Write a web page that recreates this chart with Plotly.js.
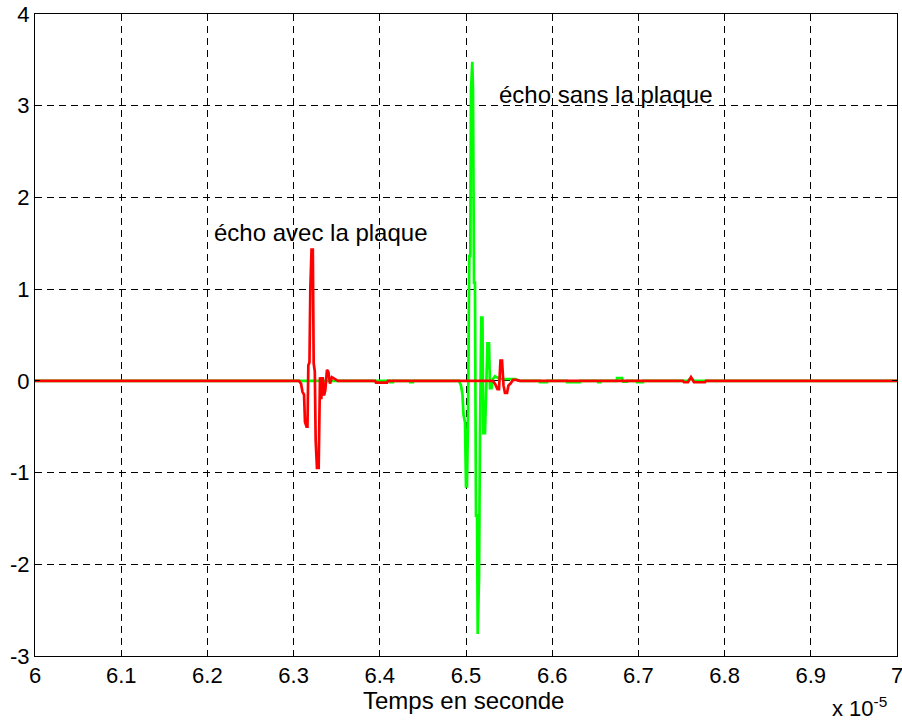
<!DOCTYPE html>
<html>
<head>
<meta charset="utf-8">
<script src="https://cdn.plot.ly/plotly-3.0.1.min.js"></script>
<style>html,body{margin:0;padding:0;background:#fff;}#chart{width:902px;height:724px;}</style>
</head>
<body>
<div id="chart"></div>
<script>
// Temps (unités de 1e-5 s) et amplitudes
var tempsSans = [6.0, 6.3900, 6.4118, 6.4120, 6.4153, 6.4155, 6.4350, 6.4352, 6.4385, 6.4387,
  6.4919, 6.4942, 6.4959, 6.4971, 6.4988, 6.5000, 6.5011, 6.5023, 6.5038, 6.5050,
  6.5058, 6.5073, 6.5081, 6.5093, 6.5104, 6.5116, 6.5128, 6.5136, 6.5151, 6.5162,
  6.5177, 6.5191, 6.5201, 6.5220, 6.5238, 6.5249, 6.5267, 6.5278, 6.5296, 6.5313,
  6.5336, 6.5394, 6.5568, 6.5626,
  6.5856, 6.5858, 6.5940, 6.5942, 6.6170, 6.6172, 6.6323, 6.6325, 6.6531, 6.6533, 6.6560, 6.6562,
  6.6750, 6.6752, 6.6810, 6.6821, 6.6868, 6.6870, 6.6982, 6.6984, 6.7053, 6.7055,
  6.7517, 6.7529, 6.7575, 6.7610, 6.7645, 6.7773, 6.7784, 7.0];
var ampSans = [0, 0, 0, -0.015, -0.015, 0, 0, -0.015, -0.015, 0,
  0, -0.05, -0.15, -0.37, -0.45, -1.15, -1.15, -0.45, 1.36, 1.36,
  3.17, 3.48, 3.17, 1.07, 1.07, -1.47, -1.47, -2.76, -2.15, -0.6,
  0.69, 0.69, -0.57, -0.57, 0.3, 0.41, 0.41, -0.08, -0.08, 0.02,
  0.05, 0.02, 0.02, 0,
  0, -0.015, -0.015, 0, 0, -0.015, -0.015, 0, 0, -0.015, -0.015, 0,
  0, 0.03, 0.03, -0.01, -0.01, 0, 0, -0.015, -0.015, 0,
  0, 0, 0, 0.03, 0, 0, 0, 0];

var tempsAvec = [6.0, 6.3063, 6.3086, 6.3103, 6.3121, 6.3132, 6.3150, 6.3161, 6.3171, 6.3184,
  6.3194, 6.3208, 6.3223, 6.3233, 6.3246, 6.3256, 6.3271, 6.3291, 6.3306, 6.3321,
  6.3338, 6.3353, 6.3368, 6.3387, 6.3403, 6.3422, 6.3445, 6.3480, 6.3515,
  6.3944, 6.3956, 6.4084, 6.4095,
  6.5313, 6.5336, 6.5365, 6.5383, 6.5400, 6.5418, 6.5435, 6.5452, 6.5476, 6.5493,
  6.5516, 6.5545, 6.5580, 6.5626,
  6.7517, 6.7529, 6.7575, 6.7610, 6.7645, 6.7773, 6.7784, 7.0];
var ampAvec = [0, 0, -0.03, -0.12, -0.15, -0.45, -0.5, -0.5, 0.17, 0.2,
  1.0, 1.43, 1.43, 0.19, 0.1, -0.65, -0.95, -0.95, 0.04, -0.2,
  0.04, -0.16, -0.1, 0.12, 0.1, -0.03, 0.04, 0.02, 0,
  0, -0.02, -0.02, 0,
  0, -0.03, -0.09, -0.09, 0.22, 0.22, -0.05, -0.13, -0.13, -0.05,
  -0.03, 0.01, 0.01, 0,
  0, -0.015, -0.015, 0.04, -0.015, -0.015, 0, 0];

var xTicks = [6, 6.1, 6.2, 6.3, 6.4, 6.5, 6.6, 6.7, 6.8, 6.9, 7];
var xTickText = ["6", "6.1", "6.2", "6.3", "6.4", "6.5", "6.6", "6.7", "6.8", "6.9", "7"];
var yTicks = [-3, -2, -1, 0, 1, 2, 3, 4];
var yTickText = ["-3", "-2", "-1", "0", "1", "2", "3", "4"];

var font = {family: "Liberation Sans, Arial, sans-serif", size: 24, color: "#000"};
var tickFont = {family: "Liberation Sans, Arial, sans-serif", size: 22, color: "#000"};

var traces = [
  {x: tempsSans, y: ampSans, type: "scatter", mode: "lines", name: "sans plaque",
   line: {color: "#00FF00", width: 2.7}},
  {x: tempsAvec, y: ampAvec, type: "scatter", mode: "lines", name: "avec plaque",
   line: {color: "#FF0000", width: 2.7}}
];

var axisCommon = {
  showgrid: true, gridcolor: "#000", gridwidth: 1, griddash: "7px,5px",
  showline: true, linecolor: "#000", linewidth: 1, mirror: "allticks",
  ticks: "inside", ticklen: 5, tickcolor: "#000", zeroline: false,
  tickfont: tickFont, ticklabeloverflow: "allow", automargin: false
};

var layout = {
  width: 902, height: 724,
  margin: {l: 35, r: 5, t: 14, b: 68},
  paper_bgcolor: "#fff", plot_bgcolor: "#fff",
  showlegend: false,
  font: font,
  xaxis: Object.assign({}, axisCommon, {
    range: [6, 7], tickmode: "array", tickvals: xTicks, ticktext: xTickText
  }),
  yaxis: Object.assign({}, axisCommon, {
    range: [-3, 4], tickmode: "array", tickvals: yTicks, ticktext: yTickText
  }),
  annotations: [
    {x: 0.497, y: -0.069, xref: "paper", yref: "paper", text: "Temps en seconde", showarrow: false,
     xanchor: "center", yanchor: "middle", font: font},
    {x: 6.205, y: 1.62, xref: "x", yref: "y", text: "écho avec la plaque", showarrow: false,
     xanchor: "left", yanchor: "middle", font: font},
    {x: 6.536, y: 3.12, xref: "x", yref: "y", text: "écho sans la plaque", showarrow: false,
     xanchor: "left", yanchor: "middle", font: font},
    {x: 0.956, y: -0.079, xref: "paper", yref: "paper", text: "x 10<sup>-5</sup>", showarrow: false,
     xanchor: "center", yanchor: "middle", font: tickFont}
  ]
};

Plotly.newPlot("chart", traces, layout, {displayModeBar: false, staticPlot: true});
</script>
</body>
</html>
